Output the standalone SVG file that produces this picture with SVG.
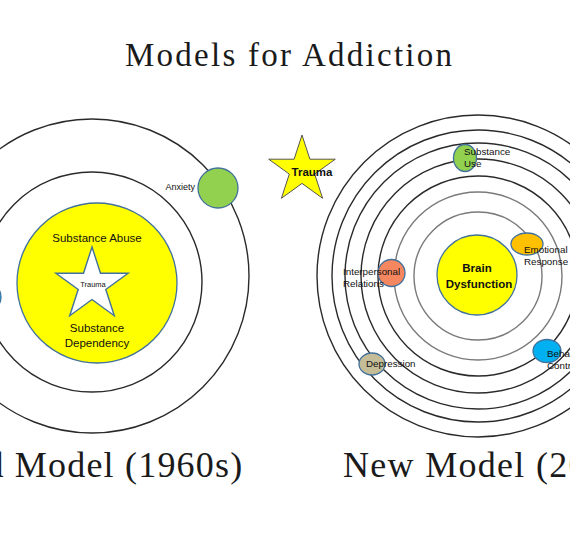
<svg xmlns="http://www.w3.org/2000/svg" width="570" height="540" viewBox="0 0 570 540">
<style>
.serif{font-family:"Liberation Serif","Times New Roman",serif;fill:#1a1a1a}
.sans{font-family:"Liberation Sans",Arial,sans-serif;fill:#111}
.ring{fill:none;stroke:#2a2a2a;stroke-width:1.4}
.ringl{fill:none;stroke:#7a7a7a;stroke-width:1.4}
.planet{stroke:#41719c;stroke-width:1.3}
.lbl{font-size:9.8px}
</style>
<rect width="570" height="540" fill="#ffffff"/>
<text class="serif" x="288.5" y="66" font-size="33" text-anchor="middle" textLength="327" lengthAdjust="spacing">Models for Addiction</text>

<g id="old-model-orbits">
<circle class="ring" cx="92" cy="276" r="157"/>
<circle class="ring" cx="92" cy="282" r="110"/>
</g>
<g id="substance-core">
<circle cx="97" cy="283" r="80" fill="#ffff00" stroke="#41719c" stroke-width="1.3"/>
<text class="sans" x="97" y="242" font-size="11.5" text-anchor="middle">Substance Abuse</text>
<text class="sans" x="97" y="332" font-size="11.5" text-anchor="middle">Substance</text>
<text class="sans" x="97" y="347" font-size="11.5" text-anchor="middle">Dependency</text>
</g>
<g id="trauma-inner">
<polygon points="92,247 100.5,273.3 128.1,273.3 105.8,289.5 114.3,315.7 92,299.5 69.7,315.7 78.2,289.5 55.9,273.3 83.5,273.3" fill="#ffffff" stroke="#41719c" stroke-width="1.4"/>
<text class="sans" x="93" y="287" font-size="7.5" text-anchor="middle" fill="#333">Trauma</text>
</g>
<g id="anxiety">
<circle class="planet" cx="218" cy="188" r="20" fill="#92d050"/>
<text class="sans" x="195" y="190" font-size="9" text-anchor="end" fill="#333">Anxiety</text>
</g>
<g id="left-partial">
<circle class="planet" cx="-14" cy="297" r="15" fill="#00b0f0"/>
</g>
<text class="serif" x="-53" y="477" font-size="36" letter-spacing="1.2">Old Model (1960s)</text>

<g id="trauma-star">
<polygon points="302,135 309.9,159.2 335.3,159.2 314.7,174.1 322.6,198.3 302,183.4 281.4,198.3 289.3,174.1 268.7,159.2 294.1,159.2" fill="#ffff00" stroke="#555" stroke-width="1"/>
<text class="sans" x="312" y="176" font-size="11.5" font-weight="bold" text-anchor="middle">Trauma</text>
</g>

<g id="new-model-orbits">
<circle class="ring" cx="478" cy="276" r="161"/>
<circle class="ring" cx="478" cy="276" r="146"/>
<circle class="ring" cx="478" cy="276" r="133"/>
<circle class="ring" cx="478" cy="276" r="117"/>
<circle class="ring" cx="478" cy="276" r="100"/>
<circle class="ringl" cx="478" cy="276" r="84"/>
<circle class="ringl" cx="478" cy="276" r="64"/>
</g>
<g id="brain-dysfunction">
<circle cx="477" cy="275" r="40" fill="#ffff00" stroke="#41719c" stroke-width="1.3"/>
<text class="sans" x="477" y="272" font-size="11.5" font-weight="bold" text-anchor="middle">Brain</text>
<text class="sans" x="479" y="288" font-size="11.5" font-weight="bold" text-anchor="middle">Dysfunction</text>
</g>
<g id="substance-use">
<ellipse class="planet" cx="465" cy="158" rx="11.5" ry="13.5" fill="#92d050"/>
<text class="sans lbl" x="464" y="155">Substance</text>
<text class="sans lbl" x="464" y="167">Use</text>
</g>
<g id="emotional-response">
<ellipse class="planet" cx="527" cy="244" rx="16" ry="11" fill="#ffc000"/>
<text class="sans lbl" x="524" y="253">Emotional</text>
<text class="sans lbl" x="524" y="265">Response</text>
</g>
<g id="interpersonal-relations">
<circle class="planet" cx="391.5" cy="273" r="13.5" fill="#f4875f"/>
<text class="sans lbl" x="343" y="275">Interpersonal</text>
<text class="sans lbl" x="343" y="287">Relations</text>
</g>
<g id="depression">
<ellipse class="planet" cx="372" cy="364" rx="13" ry="11" fill="#c4bd97"/>
<text class="sans lbl" x="366" y="367">Depression</text>
</g>
<g id="behavioral-control">
<ellipse class="planet" cx="547" cy="351" rx="14" ry="11.5" fill="#00b0f0"/>
<text class="sans lbl" x="547" y="357">Behavioral</text>
<text class="sans lbl" x="547" y="369">Control</text>
</g>
<text class="serif" x="343" y="477" font-size="36" letter-spacing="1.3">New Model (2000s)</text>
</svg>
